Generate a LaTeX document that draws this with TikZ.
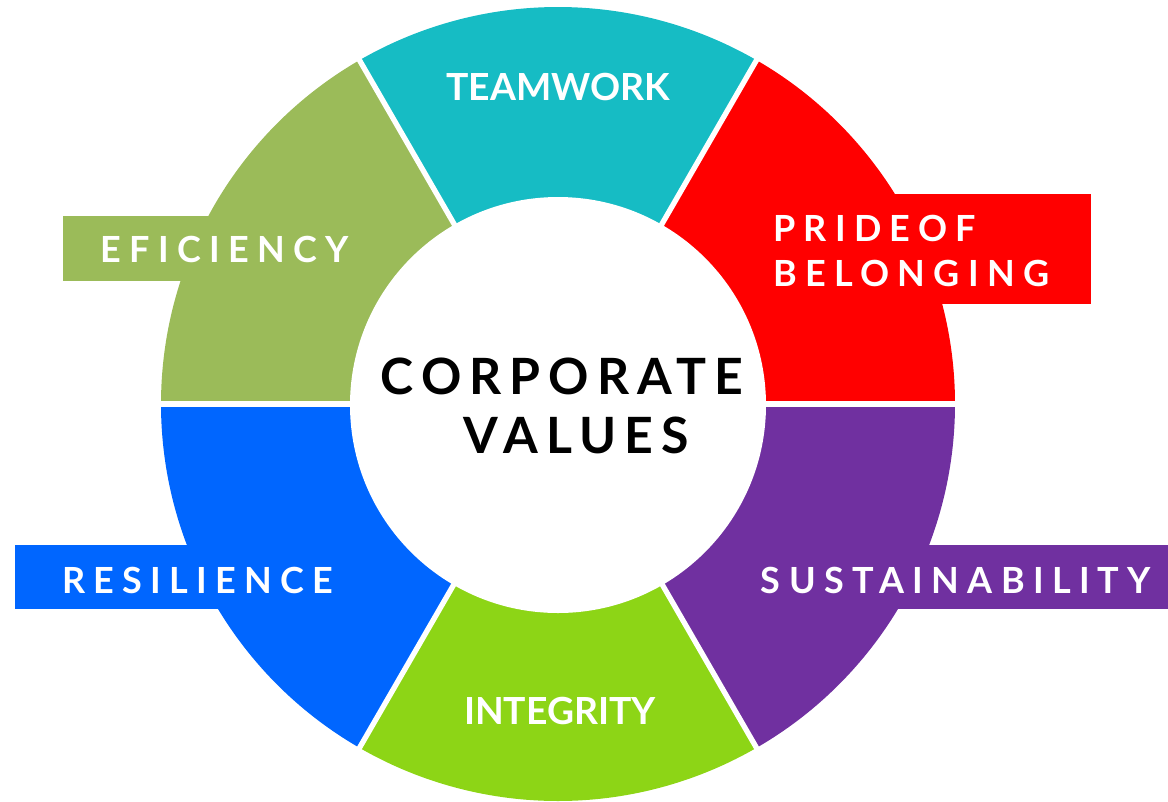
\documentclass[tikz,border=0pt]{standalone}
\usepackage{fontspec}
\setmainfont{Lato}

\definecolor{teamteal}{RGB}{22,188,196}
\definecolor{pridered}{RGB}{255,0,0}
\definecolor{sustpurple}{RGB}{112,48,160}
\definecolor{integgreen}{RGB}{141,213,22}
\definecolor{resblue}{RGB}{0,102,255}
\definecolor{efolive}{RGB}{155,187,89}

\begin{document}
\begin{tikzpicture}[x=0.75pt,y=0.75pt,yscale=-1,xscale=1,
  plaintext/.style={text=white,inner sep=0pt,font=\fontsize{28}{34}\selectfont\bfseries},
  spacedtext/.style={text=white,inner sep=0pt,font=\fontsize{27}{33}\selectfont\bfseries\addfontfeature{LetterSpace=23}},
  titletext/.style={text=black,inner sep=0pt,font=\fontsize{37.5}{45}\selectfont\bfseries\addfontfeature{LetterSpace=16}}]
\useasboundingbox (0,0) rectangle (1168,801);

%Shape: Wedges of the ring
\fill[teamteal] (558,404) -- ++(240:397) arc[start angle=240,end angle=300,radius=397] -- cycle;
\fill[pridered] (558,404) -- ++(300:397) arc[start angle=300,end angle=360,radius=397] -- cycle;
\fill[sustpurple] (558,404) -- ++(0:397) arc[start angle=0,end angle=60,radius=397] -- cycle;
\fill[integgreen] (558,404) -- ++(60:397) arc[start angle=60,end angle=120,radius=397] -- cycle;
\fill[resblue] (558,404) -- ++(120:397) arc[start angle=120,end angle=180,radius=397] -- cycle;
\fill[efolive] (558,404) -- ++(180:397) arc[start angle=180,end angle=240,radius=397] -- cycle;

%Shape: Label bands
\fill[efolive] (63,216) rectangle (400,281);
\fill[pridered] (760,194) rectangle (1091,304);
\fill[resblue] (15,545) rectangle (380,609);
\fill[sustpurple] (740,545) rectangle (1168,609);

%Shape: Hole and gaps
\fill[white] (558,405) circle[radius=208];
\foreach \a in {0,60,...,300}
  \draw[white,line width=4pt] (558,404) -- ++(\a:402);

% Text Node
\node[plaintext,anchor=base] (teamwork) at (558,100) {TEAMWORK};
% Text Node
\node[plaintext,anchor=base] (integrity) at (560,724) {INTEGRITY};
% Text Node
\node[spacedtext,anchor=base] (eficiency) at (225,262) {EFICIENCY};
% Text Node
\node[spacedtext,anchor=base] (resilience) at (198,593) {RESILIENCE};
% Text Node
\node[spacedtext,anchor=base] (sustain) at (956,593) {SUSTAINABILITY};
% Text Node
\node[spacedtext,anchor=base west] (prideof) at (773,241) {PRIDEOF};
% Text Node
\node[spacedtext,anchor=base west] (belonging) at (773,286) {BELONGING};
% Text Node
\node[titletext,anchor=base] (corporate) at (562,394) {CORPORATE};
% Text Node
\node[titletext,anchor=base] (values) at (576,453) {VALUES};

\end{tikzpicture}
\end{document}
